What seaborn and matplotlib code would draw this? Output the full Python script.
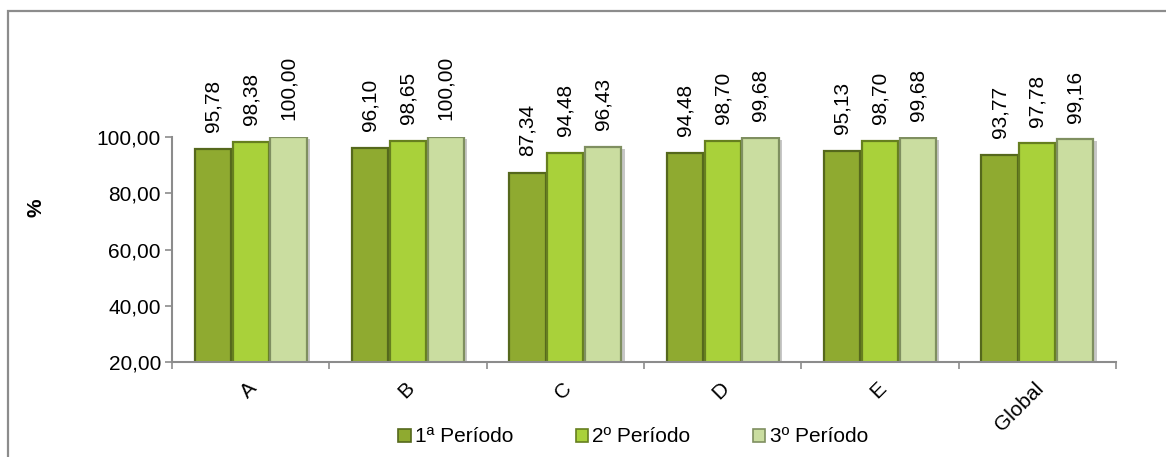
import matplotlib
matplotlib.use("Agg")
import matplotlib.pyplot as plt
import matplotlib.patches as mpatches
import matplotlib.transforms as mtransforms
import matplotlib.patheffects as pe
from matplotlib.ticker import FuncFormatter, FixedLocator
import seaborn as sns
import pandas as pd

categories = ["A", "B", "C", "D", "E", "Global"]
periods = ["1ª Período", "2º Período", "3º Período"]
p1 = [95.78, 96.10, 87.34, 94.48, 95.13, 93.77]
p2 = [98.38, 98.65, 94.48, 98.70, 98.70, 97.78]
p3 = [100.00, 100.00, 96.43, 99.68, 99.68, 99.16]
colors = ["#8faa30", "#a9d13a", "#cadda0"]
edges = ["#55681c", "#667f1f", "#7f8f60"]

rows = []
for name, vals in zip(periods, [p1, p2, p3]):
    for c, v in zip(categories, vals):
        rows.append({"cat": c, "period": name, "val": v})
df = pd.DataFrame(rows)

sns.set_theme(style="white")
plt.rcParams["font.family"] = ["Liberation Sans", "DejaVu Sans"]
plt.rcParams["text.color"] = "black"
plt.rcParams["xtick.color"] = "black"
plt.rcParams["ytick.color"] = "black"

FS = 15

fig = plt.figure(figsize=(11.66, 4.57), dpi=100)
ax = fig.add_axes([172 / 1166, 1 - 362 / 457, (1116 - 172) / 1166, (362 - 137) / 457])

sns.barplot(data=df, x="cat", y="val", hue="period", order=categories,
            hue_order=periods, palette=colors, width=0.72, gap=0.04,
            saturation=1, ax=ax, legend=True)

for i, cont in enumerate(ax.containers):
    for p in cont:
        p.set_edgecolor(edges[i])
        p.set_linewidth(1.6)
        p.set_path_effects([pe.SimplePatchShadow(offset=(2.5, -1.5), alpha=0.22,
                                                 shadow_rgbFace="black"),
                            pe.Normal()])
    labels = [f"{v:.2f}".replace(".", ",") for v in cont.datavalues]
    ax.bar_label(cont, labels=labels, rotation=90, padding=12, fontsize=FS,
                 color="black", clip_on=False)

ax.set_ylim(20, 100)
ax.set_xlim(-0.5, 5.5)
ax.set_yticks([20, 40, 60, 80, 100])
ax.yaxis.set_major_formatter(FuncFormatter(lambda v, p: f"{v:.2f}".replace(".", ",")))
ax.tick_params(axis="y", labelsize=FS, length=5, width=1.2, color="#8c8c8c",
               labelcolor="black", direction="out", left=True, pad=3)
ax.set_xticks(range(len(categories)))
ax.set_xticklabels(categories, fontsize=FS)
ax.tick_params(axis="x", which="major", length=0, pad=17, labelcolor="black")
ax.xaxis.set_minor_locator(FixedLocator([i - 0.5 for i in range(len(categories) + 1)]))
ax.tick_params(axis="x", which="minor", length=5, width=1.2, color="#8c8c8c",
               direction="out", bottom=True)
offset = mtransforms.ScaledTranslation(3 / 100, 0, fig.dpi_scale_trans)
for lab in ax.get_xticklabels():
    lab.set_rotation(45)
    lab.set_rotation_mode("anchor")
    lab.set_ha("right")
    lab.set_va("center")
    lab.set_transform(lab.get_transform() + offset)
ax.set_xlabel("")
ax.set_ylabel("")
for s in ["top", "right"]:
    ax.spines[s].set_visible(False)
for s in ["left", "bottom"]:
    ax.spines[s].set_color("#8c8c8c")
    ax.spines[s].set_linewidth(1.5)
    ax.spines[s].set_zorder(3)

fig.text(36 / 1166, 1 - 208 / 457, "%", rotation=90, fontsize=FS,
         fontweight="bold", ha="center", va="center", color="black")

handles = [mpatches.Patch(facecolor=c, edgecolor=e, linewidth=1.2)
           for c, e in zip(colors, edges)]
ax.get_legend().remove()
fig.legend(handles, periods, loc="center", bbox_to_anchor=(633 / 1166, 1 - 437 / 457),
           ncol=3, frameon=False, fontsize=FS, handlelength=0.6, handleheight=0.6,
           handletextpad=0.2, columnspacing=3.0, labelcolor="black")

border = mpatches.Rectangle((7.5 / 1166, -0.1), 1.2, 1 - 10.5 / 457 + 0.1,
                            transform=fig.transFigure, fill=False,
                            edgecolor="#8c8c8c", linewidth=1.6, clip_on=False)
fig.patches.append(border)

fig.savefig("out.png", dpi=100)
